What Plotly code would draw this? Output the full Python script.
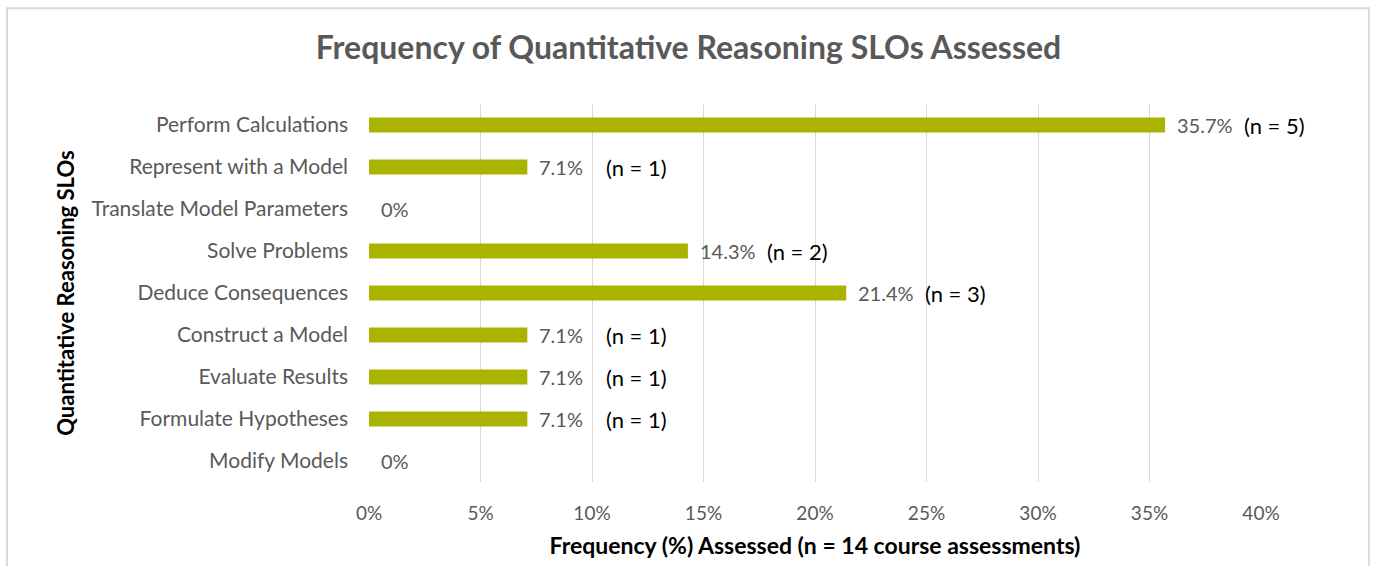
import plotly.graph_objects as go

# Quantitative reasoning SLOs, listed top to bottom
categories = [
    "Perform Calculations",
    "Represent with a Model",
    "Translate Model Parameters",
    "Solve Problems",
    "Deduce Consequences",
    "Construct a Model",
    "Evaluate Results",
    "Formulate Hypotheses",
    "Modify Models",
]
percent_assessed = [35.7, 7.1, 0, 14.3, 21.4, 7.1, 7.1, 7.1, 0]
n_assessed = [5, 1, 0, 2, 3, 1, 1, 1, 0]
x_ticks = [0, 5, 10, 15, 20, 25, 30, 35, 40]
x_tick_labels = [f"{t}%" for t in x_ticks]

FONT = "Lato"
BAR_COLOR = "#AAB300"
GRAY_TEXT = "#595959"

fig = go.Figure()
fig.add_trace(go.Bar(
    y=categories,
    x=percent_assessed,
    orientation="h",
    marker=dict(color=BAR_COLOR, line=dict(width=0)),
    width=0.36,
    hoverinfo="skip",
))

# Value labels and "(n = k)" notes beside each bar
for cat, v, n in zip(categories, percent_assessed, n_assessed):
    fig.add_annotation(
        x=v, y=cat, xref="x", yref="y",
        text=("0%" if v == 0 else f"{v:.1f}%"), showarrow=False,
        xanchor="left", xshift=10,
        font=dict(family=FONT, size=20, color=GRAY_TEXT),
    )
    if n > 0:
        fig.add_annotation(
            x=v, y=cat, xref="x", yref="y",
            text=f"(n = {n})", showarrow=False,
            xanchor="left", xshift=77,
            font=dict(family=FONT, size=22, color="#000000"),
        )

# Light frame around the whole chart
fig.add_shape(
    type="rect", xref="paper", yref="paper",
    x0=-0.4058, x1=1.121, y0=-0.25, y1=1.253,
    line=dict(color="#D9D9D9", width=2), fillcolor="rgba(0,0,0,0)",
    layer="below",
)

fig.update_layout(
    width=1377, height=566,
    margin=dict(l=369, r=116, t=104, b=79),
    paper_bgcolor="white", plot_bgcolor="white",
    showlegend=False,
    title=dict(
        text="<b>Frequency of Quantitative Reasoning SLOs Assessed</b>",
        x=0.5, xref="container", xanchor="center",
        y=1 - 48 / 566, yref="container", yanchor="middle",
        font=dict(family=FONT, size=32, color=GRAY_TEXT),
    ),
    font=dict(family=FONT),
)

fig.update_xaxes(
    range=[0, 40],
    tickvals=x_ticks, ticktext=x_tick_labels,
    tickfont=dict(family=FONT, size=19, color=GRAY_TEXT),
    showgrid=True, gridcolor="#D9D9D9", gridwidth=1,
    zeroline=False, showline=False, ticks="",
    ticklabelstandoff=18,
    title=dict(
        text="<b>Frequency (%) Assessed (n = 14 course assessments)</b>",
        font=dict(family=FONT, size=23, color="#000000"),
        standoff=14,
    ),
)
fig.update_yaxes(
    categoryorder="array", categoryarray=categories[::-1],
    tickfont=dict(family=FONT, size=21, color=GRAY_TEXT),
    showgrid=False, zeroline=False, showline=False, ticks="",
    ticklabelstandoff=20,
    title=dict(
        text="<b>Quantitative Reasoning SLOs</b>",
        font=dict(family=FONT, size=22, color="#000000"),
        standoff=10,
    ),
)

fig.write_html("out.html")
